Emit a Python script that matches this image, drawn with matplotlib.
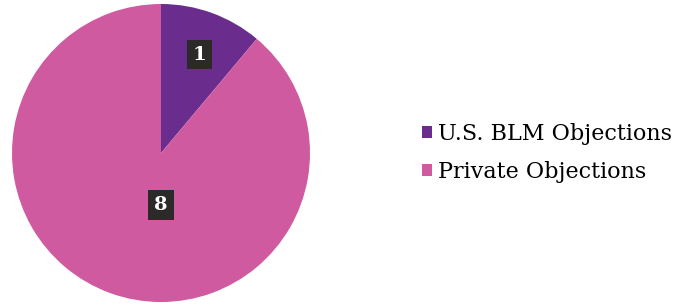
import matplotlib.pyplot as plt
from matplotlib.patches import Patch

labels = ["U.S. BLM Objections", "Private Objections"]
counts = [1, 8]
colors = ["#6a2d8e", "#cf5aa0"]

W, H = 678, 305
fig = plt.figure(figsize=(W / 100, H / 100), dpi=100)

# pie axes placed in pixels: centre ~ (161, 153), radius ~ 148
cx, cy, r = 161, 153, 149
ax = fig.add_axes([(cx - r) / W, (H - cy - r) / H, 2 * r / W, 2 * r / H])
wedges, _ = ax.pie(counts, colors=colors, startangle=90, counterclock=False,
                   wedgeprops=dict(linewidth=0))
ax.set_aspect("equal")
ax.set_xlim(-1, 1)
ax.set_ylim(-1, 1)

box = dict(boxstyle="square,pad=0.3", fc="#2b2a28", ec="none")
ax.text(0.26, 0.66, str(counts[0]), color="white", fontsize=14, fontweight="bold",
        family="DejaVu Serif", ha="center", va="center", bbox=box)
ax.text(0.0, -0.35, str(counts[1]), color="white", fontsize=14, fontweight="bold",
        family="DejaVu Serif", ha="center", va="center", bbox=box)

handles = [Patch(facecolor=c, edgecolor="none") for c in colors]
fig.legend(handles, labels, loc="center left", bbox_to_anchor=(402 / W, 1 - 153 / H),
           frameon=False, prop={"family": "DejaVu Serif", "size": 16},
           handlelength=0.45, handleheight=0.45, handletextpad=0.25, labelspacing=0.75)

fig.savefig("out.png", dpi=100, facecolor="white")
